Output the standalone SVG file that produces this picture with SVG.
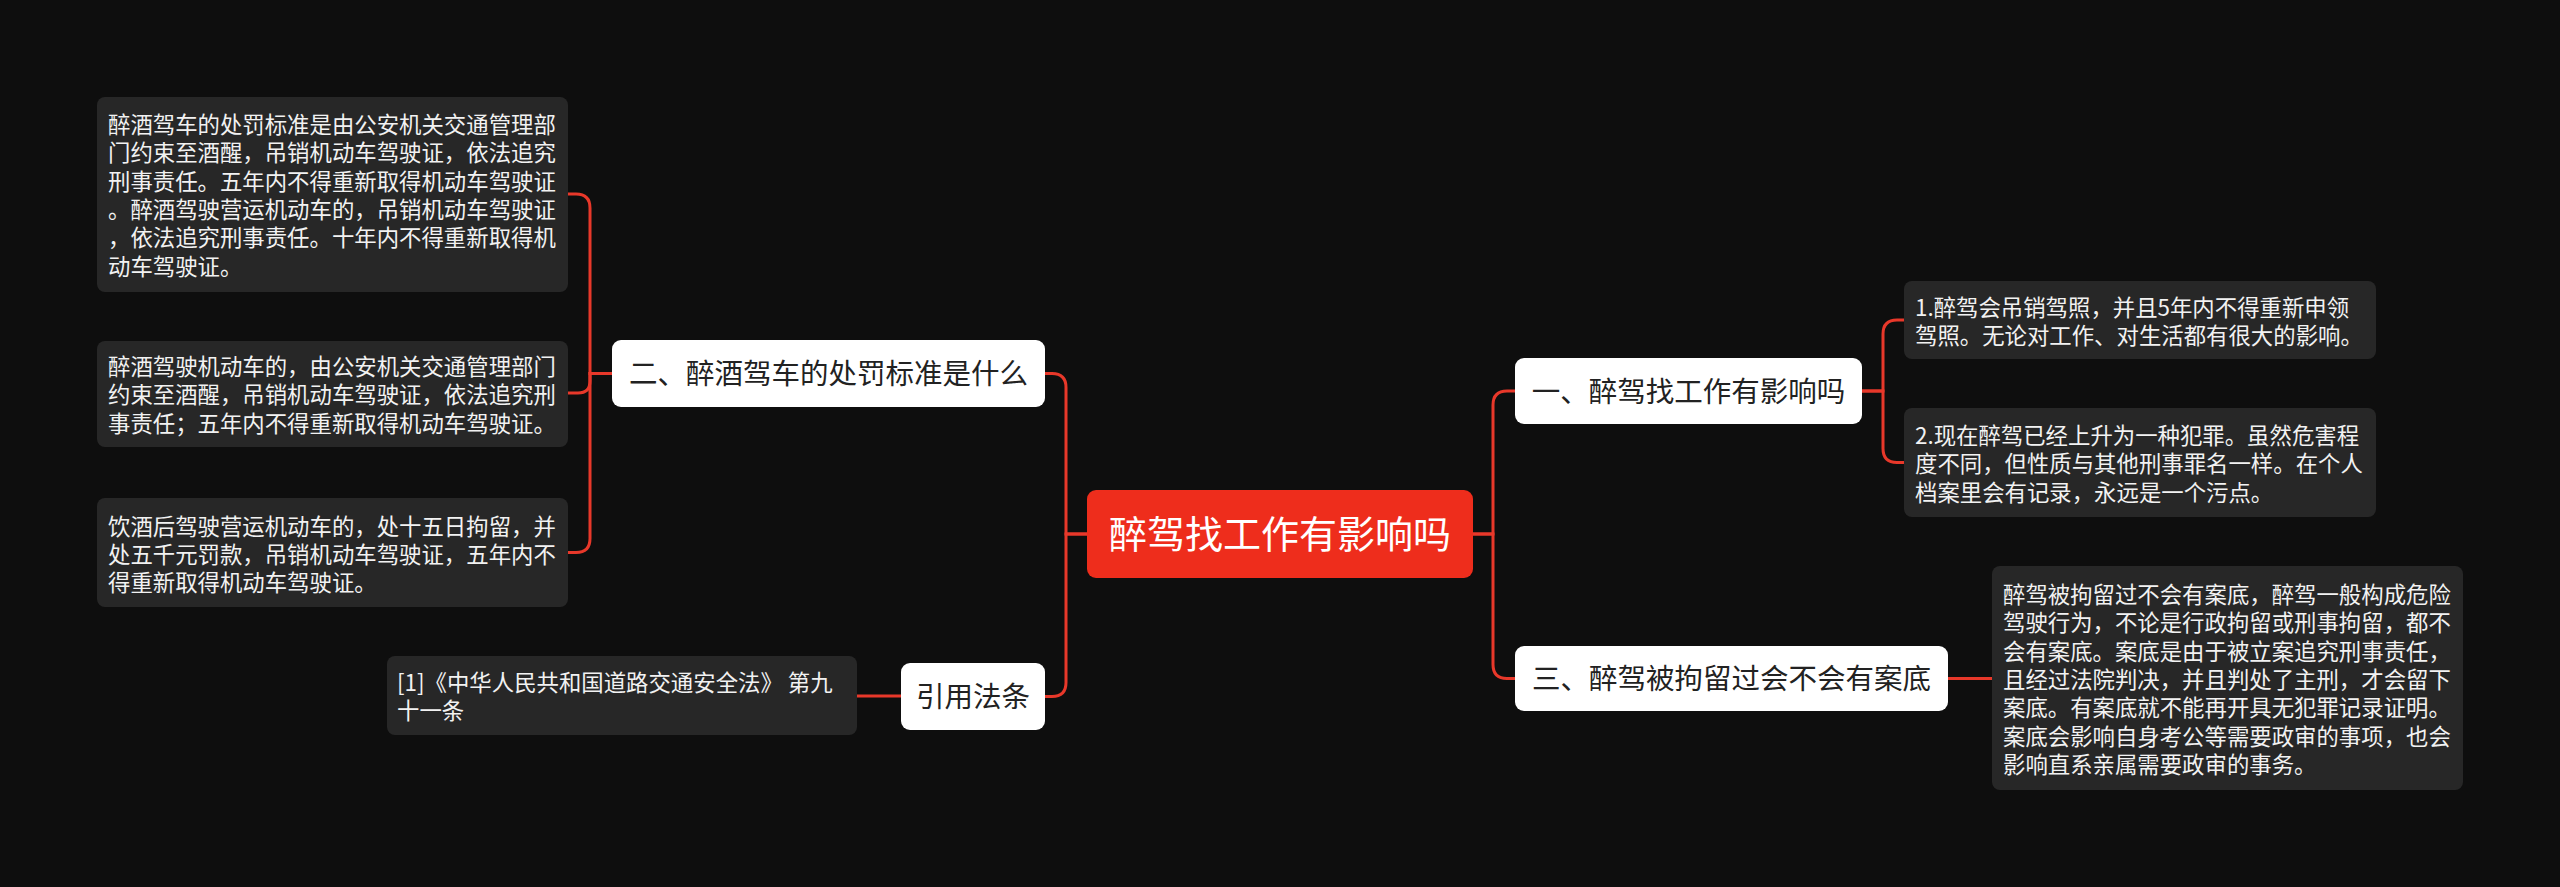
<svg xmlns="http://www.w3.org/2000/svg" width="2560" height="887" viewBox="0 0 2560 887">
<style>
.bg{fill:#0e0e0e}
.box{fill:#272727}
.bt{font-family:"Noto Sans CJK SC","Noto Sans",sans-serif;font-size:22.4px;fill:#f2f2f2}
.node{fill:#ffffff}
.nt{font-family:"Noto Sans CJK SC","Noto Sans",sans-serif;font-size:28.5px;fill:#222222;text-anchor:middle}
.center{fill:#ee2d1c}
.ct{font-family:"Noto Sans CJK SC","Noto Sans",sans-serif;font-size:38px;fill:#ffffff;text-anchor:middle}
.ln{fill:none;stroke:#e8382a;stroke-width:3}
</style>
<rect class="bg" x="0" y="0" width="2560" height="887"/>
<g id="connectors">
<path class="ln" d="M1087,534 H1066 V387.5 Q1066,373.5 1052,373.5 H1045"/>
<path class="ln" d="M1087,534 H1066 V682.5 Q1066,696.5 1052,696.5 H1045"/>
<path class="ln" d="M1473,534 H1493 V405 Q1493,391 1507,391 H1515"/>
<path class="ln" d="M1473,534 H1493 V664.5 Q1493,678.5 1507,678.5 H1515"/>
<path class="ln" d="M612,373.5 H590 V208 Q590,194 576,194 H568"/>
<path class="ln" d="M612,373.5 H590 V381 Q590,393 578,393 H568"/>
<path class="ln" d="M612,373.5 H590 V538.5 Q590,552.5 576,552.5 H568"/>
<path class="ln" d="M901,696 H857"/>
<path class="ln" d="M1862,391 H1883 V334 Q1883,320 1897,320 H1904"/>
<path class="ln" d="M1862,391 H1883 V448.5 Q1883,462.5 1897,462.5 H1904"/>
<path class="ln" d="M1948,678.5 H1992"/>
</g>
<g id="center">
<rect class="center" x="1087" y="490" width="386" height="88" rx="9"/>
<text class="ct" x="1280" y="548">醉驾找工作有影响吗</text>
</g>
<g id="n2">
<rect class="node" x="612" y="340" width="433" height="67" rx="9"/>
<text class="nt" x="828.5" y="384">二、醉酒驾车的处罚标准是什么</text>
</g>
<g id="n-ref">
<rect class="node" x="901" y="663" width="144" height="67" rx="9"/>
<text class="nt" x="973" y="707">引用法条</text>
</g>
<g id="n1">
<rect class="node" x="1515" y="358" width="347" height="66" rx="9"/>
<text class="nt" x="1688.5" y="401.5">一、醉驾找工作有影响吗</text>
</g>
<g id="n3">
<rect class="node" x="1515" y="646" width="433" height="65" rx="9"/>
<text class="nt" x="1731.5" y="689">三、醉驾被拘留过会不会有案底</text>
</g>
<g id="boxA">
<rect class="box" x="97" y="97" width="471" height="195" rx="8"/>
<text class="bt" x="108" y="133">
<tspan x="108" y="133">醉酒驾车的处罚标准是由公安机关交通管理部</tspan>
<tspan x="108" dy="28.3">门约束至酒醒，吊销机动车驾驶证，依法追究</tspan>
<tspan x="108" dy="28.3">刑事责任。五年内不得重新取得机动车驾驶证</tspan>
<tspan x="108" dy="28.3">。醉酒驾驶营运机动车的，吊销机动车驾驶证</tspan>
<tspan x="108" dy="28.3">，依法追究刑事责任。十年内不得重新取得机</tspan>
<tspan x="108" dy="28.3">动车驾驶证。</tspan>
</text>
</g>
<g id="boxB">
<rect class="box" x="97" y="341" width="471" height="106" rx="8"/>
<text class="bt">
<tspan x="108" y="375">醉酒驾驶机动车的，由公安机关交通管理部门</tspan>
<tspan x="108" dy="28.3">约束至酒醒，吊销机动车驾驶证，依法追究刑</tspan>
<tspan x="108" dy="28.3">事责任；五年内不得重新取得机动车驾驶证。</tspan>
</text>
</g>
<g id="boxC">
<rect class="box" x="97" y="498" width="471" height="109" rx="8"/>
<text class="bt">
<tspan x="108" y="534.5">饮酒后驾驶营运机动车的，处十五日拘留，并</tspan>
<tspan x="108" dy="28.3">处五千元罚款，吊销机动车驾驶证，五年内不</tspan>
<tspan x="108" dy="28.3">得重新取得机动车驾驶证。</tspan>
</text>
</g>
<g id="boxD">
<rect class="box" x="387" y="656" width="470" height="79" rx="8"/>
<text class="bt" xml:space="preserve"><tspan x="397" y="691">[1]《中华人民共和国道路交通安全法》 第九</tspan><tspan x="397" dy="28.3">十一条</tspan></text>
</g>
<g id="boxE">
<rect class="box" x="1904" y="281" width="472" height="78" rx="8"/>
<text class="bt">
<tspan x="1915" y="315.5">1.醉驾会吊销驾照，并且5年内不得重新申领</tspan>
<tspan x="1915" dy="28.3">驾照。无论对工作、对生活都有很大的影响。</tspan>
</text>
</g>
<g id="boxF">
<rect class="box" x="1904" y="408" width="472" height="109" rx="8"/>
<text class="bt">
<tspan x="1915" y="444">2.现在醉驾已经上升为一种犯罪。虽然危害程</tspan>
<tspan x="1915" dy="28.3">度不同，但性质与其他刑事罪名一样。在个人</tspan>
<tspan x="1915" dy="28.3">档案里会有记录，永远是一个污点。</tspan>
</text>
</g>
<g id="boxG">
<rect class="box" x="1992" y="566" width="471" height="224" rx="8"/>
<text class="bt">
<tspan x="2003" y="603">醉驾被拘留过不会有案底，醉驾一般构成危险</tspan>
<tspan x="2003" dy="28.3">驾驶行为，不论是行政拘留或刑事拘留，都不</tspan>
<tspan x="2003" dy="28.3">会有案底。案底是由于被立案追究刑事责任，</tspan>
<tspan x="2003" dy="28.3">且经过法院判决，并且判处了主刑，才会留下</tspan>
<tspan x="2003" dy="28.3">案底。有案底就不能再开具无犯罪记录证明。</tspan>
<tspan x="2003" dy="28.3">案底会影响自身考公等需要政审的事项，也会</tspan>
<tspan x="2003" dy="28.3">影响直系亲属需要政审的事务。</tspan>
</text>
</g>
</svg>
